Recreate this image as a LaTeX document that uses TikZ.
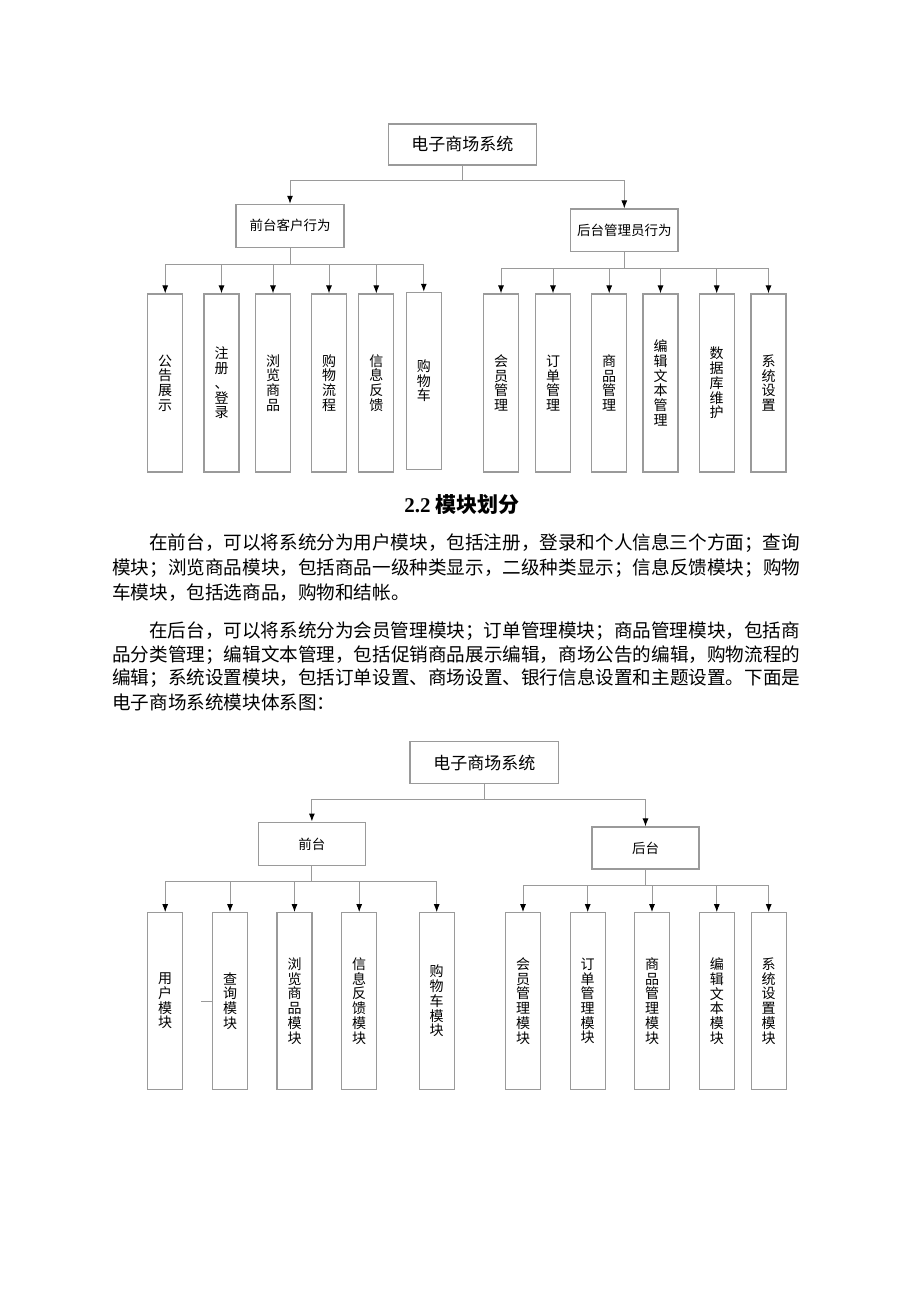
\documentclass[tikz,border=0pt]{standalone}
\usepackage{fontspec}
\setmainfont{Liberation Serif}
\newfontfamily\cjk{Noto Sans CJK SC}
\usetikzlibrary{arrows.meta}
\definecolor{ln}{HTML}{9A9A9A}
\tikzset{
  box/.style={draw=ln, line width=1.1pt, fill=white, inner sep=0pt, align=center},
  vbox/.style={box, minimum width=35, font=\cjk\fontsize{14}{14.7}\selectfont},
  conn/.style={draw=ln, line width=1pt},
  arr/.style={conn, -{Latex[length=8pt,width=6pt,color=black]}},
  body/.style={anchor=west, inner sep=0pt, font=\cjk\fontsize{18.6}{18.6}\selectfont}
}
\begin{document}
\begin{tikzpicture}[x=1pt,y=-1pt]
\fill[white] (0,0) rectangle (920,1302);
\useasboundingbox (0,0) rectangle (920,1302);

% ---------- top diagram ----------
\node[box, minimum width=148.5, minimum height=41, font=\cjk\fontsize{17}{17}\selectfont] (r1) at (462.3,144.5) {电子商场系统};
\node[box, minimum width=108, minimum height=43, font=\cjk\fontsize{13.5}{13.5}\selectfont] (f1) at (290,225.8) {前台客户行为};
\node[box, minimum width=107.4, minimum height=42.7, font=\cjk\fontsize{13.5}{13.5}\selectfont] (b1) at (624.3,230.3) {后台管理员行为};

\node[vbox, minimum height=178] (fa) at (165.2,383) {公\\告\\展\\示};
\node[vbox, minimum height=178] (fb) at (221.5,383) {注\\册\\、\\登\\录};
\node[vbox, minimum height=178] (fc) at (273,383) {浏\\览\\商\\品};
\node[vbox, minimum height=178] (fd) at (329,383) {购\\物\\流\\程};
\node[vbox, minimum height=178] (fe) at (376.3,383) {信\\息\\反\\馈};
\node[vbox, minimum height=177] (ff) at (423.8,380.8) {购\\物\\车};

\node[vbox, minimum height=178] (ba) at (501,383) {会\\员\\管\\理};
\node[vbox, minimum height=178] (bb) at (553,383) {订\\单\\管\\理};
\node[vbox, minimum height=178] (bc) at (609.2,383) {商\\品\\管\\理};
\node[vbox, minimum height=178] (bd) at (660.5,383) {编\\辑\\文\\本\\管\\理};
\node[vbox, minimum height=178] (be) at (716.7,383) {数\\据\\库\\维\\护};
\node[vbox, minimum height=178] (bf) at (768.5,383) {系\\统\\设\\置};

\coordinate (j1) at (462.3,180.7);
\coordinate (jf1) at (290,264);
\coordinate (jb1) at (624.3,268);
\draw[conn] (r1.south) -- (j1);
\draw[arr] (j1) -| (f1.north);
\draw[arr] (j1) -| (b1.north);
\draw[conn] (f1.south) -- (jf1);
\draw[conn] (b1.south) -- (jb1);
\foreach \c in {fa,fb,fc,fd,fe,ff} \draw[arr] (jf1) -| (\c.north);
\foreach \c in {ba,bb,bc,bd,be,bf} \draw[arr] (jb1) -| (\c.north);

% ---------- text ----------
\node[inner sep=0pt, font=\fontsize{21}{21}\selectfont\bfseries] (h) at (462,505) {2.2 {\cjk\bfseries 模块划分}};

\node[body] (p1) at (149,543) {在前台，可以将系统分为用户模块，包括注册，登录和个人信息三个方面；查询};
\node[body] (p2) at (112,568) {模块；浏览商品模块，包括商品一级种类显示，二级种类显示；信息反馈模块；购物};
\node[body] (p3) at (112,592.7) {车模块，包括选商品，购物和结帐。};
\node[body] (q1) at (149,631) {在后台，可以将系统分为会员管理模块；订单管理模块；商品管理模块，包括商};
\node[body] (q2) at (112,655) {品分类管理；编辑文本管理，包括促销商品展示编辑，商场公告的编辑，购物流程的};
\node[body] (q3) at (112,678.5) {编辑；系统设置模块，包括订单设置、商场设置、银行信息设置和主题设置。下面是};
\node[body] (q4) at (112,702) {电子商场系统模块体系图：};

% ---------- bottom diagram ----------
\node[box, minimum width=148.6, minimum height=41.6, font=\cjk\fontsize{17}{17}\selectfont] (r2) at (484.3,762.5) {电子商场系统};
\node[box, minimum width=107.7, minimum height=43.7, font=\cjk\fontsize{13.5}{13.5}\selectfont] (f2) at (311.9,843.9) {前台};
\node[box, minimum width=107, minimum height=42, font=\cjk\fontsize{13.5}{13.5}\selectfont] (b2) at (645.5,848) {后台};

\node[vbox, minimum height=176.6] (ga) at (165.2,1001) {用\\户\\模\\块};
\node[vbox, minimum height=176.6] (gb) at (230,1001) {查\\询\\模\\块};
\node[vbox, minimum height=176.6] (gc) at (294.5,1001) {浏\\览\\商\\品\\模\\块};
\node[vbox, minimum height=176.6] (gd) at (359.2,1001) {信\\息\\反\\馈\\模\\块};
\node[vbox, minimum height=176.6] (ge) at (436.7,1001) {购\\物\\车\\模\\块};

\node[vbox, minimum height=176.6] (ha) at (523,1001) {会\\员\\管\\理\\模\\块};
\node[vbox, minimum height=176.6] (hb) at (587.7,1001) {订\\单\\管\\理\\模\\块};
\node[vbox, minimum height=176.6] (hc) at (652,1001) {商\\品\\管\\理\\模\\块};
\node[vbox, minimum height=176.6] (hd) at (716.8,1001) {编\\辑\\文\\本\\模\\块};
\node[vbox, minimum height=176.6] (he) at (768.7,1001) {系\\统\\设\\置\\模\\块};

\coordinate (j2) at (484.3,799);
\coordinate (jf2) at (311.9,881.7);
\coordinate (jb2) at (645.5,885.3);
\draw[conn] (r2.south) -- (j2);
\draw[arr] (j2) -| (f2.north);
\draw[arr] (j2) -| (b2.north);
\draw[conn] (f2.south) -- (jf2);
\draw[conn] (b2.south) -- (jb2);
\foreach \c in {ga,gb,gc,gd,ge} \draw[arr] (jf2) -| (\c.north);
\foreach \c in {ha,hb,hc,hd,he} \draw[arr] (jb2) -| (\c.north);
\draw[conn] (gb.west) -- ++(-11,0);
\end{tikzpicture}
\end{document}
